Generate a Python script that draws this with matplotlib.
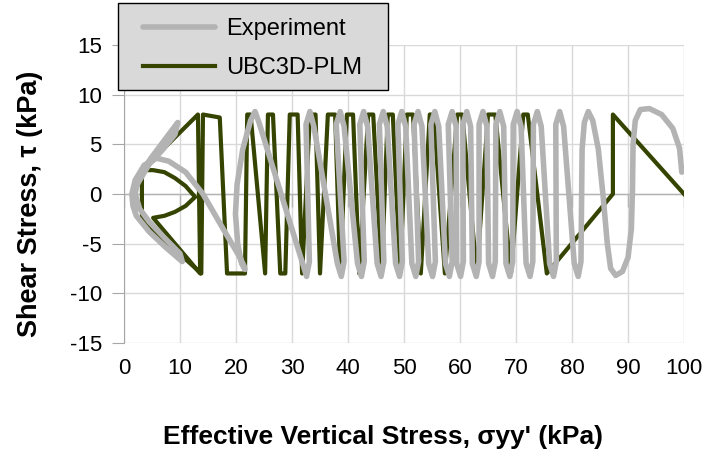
import matplotlib
matplotlib.use("Agg")
import matplotlib.pyplot as plt
from matplotlib.patches import Rectangle

plt.rcParams['font.family'] = ['Liberation Sans', 'DejaVu Sans']
plt.rcParams['axes.unicode_minus'] = False

# UBC3D-PLM simulation (sigma_yy', tau) in kPa, time order
ubc_sigma = [100.0, 87.3, 87.3, 75.5, 72.1, 71.3, 69.1, 66.3, 65.0, 63.0,
             60.4, 59.5, 57.3, 55.3, 54.6, 53.0, 51.6, 50.5, 49.3, 48.0,
             47.1, 46.0, 44.5, 43.6, 42.0, 40.9, 39.8, 38.6, 37.7, 36.4,
             35.0, 34.2, 33.2, 31.8, 31.0, 29.6, 28.8, 27.9, 26.6, 25.7,
             25.2, 22.6, 22.0, 21.6, 18.4, 17.1, 14.1, 13.8, 3.2, 3.2,
             13.2, 13.6, 5.2, 7.2, 9.1, 11.0, 12.7, 11.0, 9.1, 7.2,
             5.2, 3.2]
ubc_tau = [0.0, 8.0, 0.0, -8.0, 8.0, 8.0, -8.0, 8.0, 8.0, -8.0,
           8.0, 8.0, -8.0, 8.0, 8.0, -8.0, 8.0, 8.0, -8.0, 8.0,
           8.0, -8.0, 8.0, 8.0, -8.0, 8.0, 8.0, -8.0, 8.0, 8.0,
           -8.0, 8.0, 8.0, -8.0, 8.0, 8.0, -8.0, -8.0, 8.0, 8.0,
           -8.0, 8.0, 8.0, -8.0, -8.0, 7.7, 8.0, -8.0, -2.6, 2.4,
           8.0, -8.0, -2.4, -2.2, -1.8, -1.2, -0.3, 0.8, 1.6, 2.2,
           2.4, 2.4]

# experiment (sigma_yy', tau) in kPa, time order
exp_sigma = [99.6, 99.2, 98.0, 96.0, 93.8, 92.2, 91.3, 90.9, 90.8, 90.6,
             90.0, 89.0, 87.8, 86.9, 86.3, 85.6, 84.7,
             83.7, 82.9, 82.2, 81.8, 81.6, 81.1, 80.4,
             78.5, 77.8, 77.1, 77.2, 76.7, 76.0,
             74.5, 73.8, 73.1, 73.0, 72.5, 71.8,
             70.9, 70.2, 69.5, 69.4, 68.9, 68.2,
             67.8, 67.1, 66.4, 66.3, 65.8, 65.1,
             64.8, 64.1, 63.4, 63.4, 62.9, 62.2,
             61.9, 61.2, 60.5, 60.6, 60.1, 59.4,
             59.3, 58.6, 57.9, 58.6, 58.1, 57.4,
             56.2, 55.5, 54.8, 55.6, 55.1, 54.4,
             53.2, 52.5, 51.8, 52.6, 52.1, 51.4,
             50.3, 49.6, 48.9, 49.7, 49.2, 48.5,
             47.0, 46.3, 45.6, 46.4, 45.9, 45.2,
             43.5, 42.8, 42.1, 42.9, 42.4, 41.7,
             39.3, 38.6, 37.9, 39.3, 38.8, 38.1,
             33.9, 33.2, 32.5, 33.1, 32.6, 31.9,
             24.1, 23.4, 22.6, 21.2, 20.2, 19.9, 20.3, 21.0, 21.6, 21.4,
             20.5, 18.0, 14.1, 11.0, 8.0, 5.8, 3.6, 2.0, 1.4, 1.6,
             2.2, 4.5, 7.5, 10.4, 10.0, 7.2, 4.5, 2.8, 2.0,
             2.5, 4.8, 7.2, 9.6, 9.1, 6.8, 4.5, 2.6, 1.8]
exp_tau = [2.2, 4.6, 6.6, 8.0, 8.6, 8.5, 7.4, 5.0, 0.5, -3.5,
           -6.4, -7.8, -8.2, -7.5, -5.0, -0.5, 4.5,
           7.4, 8.3, 7.2, 4.5, -6.8, -8.3, -7.0,
           6.8, 8.3, 7.0, -6.8, -8.3, -7.0,
           6.8, 8.3, 7.0, -6.8, -8.3, -7.0,
           6.8, 8.3, 7.0, -6.8, -8.3, -7.0,
           6.8, 8.3, 7.0, -6.8, -8.3, -7.0,
           6.8, 8.3, 7.0, -6.8, -8.3, -7.0,
           6.8, 8.3, 7.0, -6.8, -8.3, -7.0,
           6.8, 8.3, 7.0, -6.8, -8.3, -7.0,
           6.8, 8.3, 7.0, -6.8, -8.3, -7.0,
           6.8, 8.3, 7.0, -6.8, -8.3, -7.0,
           6.8, 8.3, 7.0, -6.8, -8.3, -7.0,
           6.8, 8.3, 7.0, -6.8, -8.3, -7.0,
           6.8, 8.3, 7.0, -6.8, -8.3, -7.0,
           6.8, 8.3, 7.0, -6.8, -8.3, -7.0,
           6.8, 8.3, 7.0, -6.8, -8.3, -7.0,
           7.2, 8.3, 7.4, 4.5, 1.0, -2.0, -5.0, -7.0, -7.6, -7.2,
           -6.2, -3.8, 0.0, 2.2, 3.3, 3.6, 2.9, 1.4, 0.0, -1.2,
           -2.2, -3.8, -5.4, -6.8, -6.0, -4.4, -2.8, -1.5, 0.0,
           1.6, 3.6, 5.4, 7.2, 6.0, 4.4, 3.0, 1.2, 0.3]

x_ticks = list(range(0, 101, 10))
y_ticks = list(range(-15, 16, 5))

fig = plt.figure(figsize=(7.03, 4.54), dpi=100)
ax = fig.add_axes([0.1764, 0.2445, 0.7966, 0.6564])

ax.set_xlim(0, 100)
ax.set_ylim(-15, 15)
ax.set_xticks(x_ticks)
ax.set_yticks(y_ticks)
ax.grid(True, color='#d9d9d9', linewidth=1.0)
ax.set_axisbelow(True)
for s in ['top', 'right', 'bottom']:
    ax.spines[s].set_visible(False)
ax.spines['left'].set_color('#a6a6a6')
ax.tick_params(axis='y', direction='out', length=9, color='#a6a6a6',
               labelsize=16, pad=7)
ax.tick_params(axis='x', length=0, labelsize=16, pad=11)

# horizontal axis crosses at tau = 0
ax.axhline(0, color='#b4b4b4', linewidth=1.0, zorder=1)
ax.vlines(x_ticks, -1.3, 0, color='#b4b4b4', linewidth=1.0, zorder=1)

ln_u, = ax.plot(ubc_sigma, ubc_tau, color='#354400', linewidth=3.0,
                label='UBC3D-PLM', zorder=3)
ln_e, = ax.plot(exp_sigma, exp_tau, color='#b3b3b3', linewidth=4.0,
                solid_capstyle='round', solid_joinstyle='round',
                label='Experiment', zorder=4)

# legend box drawn in figure pixels, entries placed inside it
fig.patches.append(Rectangle((118 / 703, 1 - 90 / 454), 270 / 703, 87 / 454,
                             transform=fig.transFigure, facecolor='#d9d9d9',
                             edgecolor='black', linewidth=1.0, zorder=5))
leg = fig.legend([ln_e, ln_u], ['Experiment', 'UBC3D-PLM'],
                 loc='upper left', bbox_to_anchor=(143 / 703, 1 - 18 / 454),
                 fontsize=17, frameon=False, handlelength=3.05,
                 handletextpad=0.47, labelspacing=0.72,
                 borderpad=0, borderaxespad=0)
leg.set_zorder(6)

fig.text(0.545, 0.037, "Effective Vertical Stress, \u03c3yy' (kPa)",
         ha='center', va='center', fontsize=19, fontweight='bold')
fig.text(0.043, 0.55, 'Shear Stress, \u03c4 (kPa)', ha='center',
         va='center', rotation=90, fontsize=19.5, fontweight='bold')

fig.savefig('out.png', dpi=100)
